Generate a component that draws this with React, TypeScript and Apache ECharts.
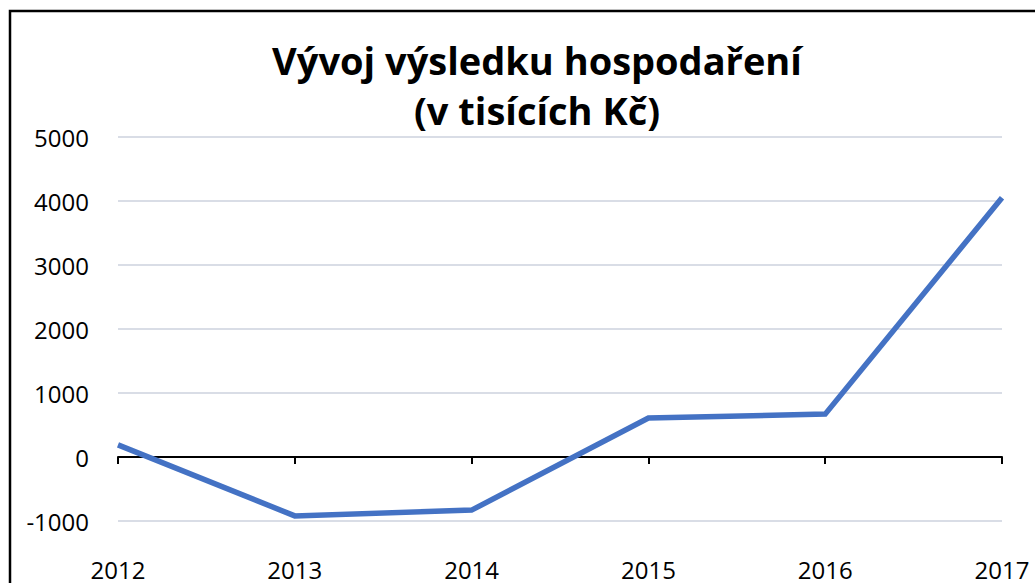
import React, { useEffect, useRef } from "react";
import * as echarts from "echarts";

const titleText = "Vývoj výsledku hospodaření\n(v tisících Kč)";
const years = ["2012", "2013", "2014", "2015", "2016", "2017"];
const result = [190, -920, -830, 610, 670, 4050];
const yMin = -1000;
const yMax = 5000;
const yStep = 1000;

export default function App() {
  const ref = useRef<HTMLDivElement>(null);
  useEffect(() => {
    if (!ref.current) return;
    const chart = echarts.init(ref.current, null, { renderer: "svg" });
    const font = "'Open Sans', 'Liberation Sans', sans-serif";
    chart.setOption({
      animation: false,
      backgroundColor: "#ffffff",
      title: {
        text: titleText,
        left: 532,
        top: 30,
        textAlign: "center",
        textStyle: {
          fontFamily: font,
          fontWeight: "bold",
          fontSize: 38,
          lineHeight: 50,
          color: "#000000",
        },
      },
      graphic: [
        {
          type: "rect",
          shape: { x: 10, y: 11, width: 1100, height: 700 },
          style: { fill: "none", stroke: "#000000", lineWidth: 2.5 },
          silent: true,
          z: 100,
        },
      ],
      grid: { left: 118, right: 33, top: 137, bottom: 62, containLabel: false },
      xAxis: [
        {
          type: "category",
          data: years,
          boundaryGap: false,
          axisLine: { show: true, onZero: true, lineStyle: { color: "#000000", width: 2 } },
          axisTick: { show: true, alignWithLabel: true, length: 7, lineStyle: { color: "#000000", width: 2 } },
          axisLabel: { show: false },
          splitLine: { show: false },
        },
        {
          type: "category",
          data: years,
          boundaryGap: false,
          position: "bottom",
          axisLine: { show: false, onZero: false },
          axisTick: { show: false },
          axisLabel: {
            show: true,
            margin: 37,
            fontFamily: font,
            fontSize: 24,
            lineHeight: 22,
            color: "#000000",
          },
          splitLine: { show: false },
        },
      ],
      yAxis: {
        type: "value",
        min: yMin,
        max: yMax,
        interval: yStep,
        axisLine: { show: false },
        axisTick: { show: false },
        axisLabel: {
          margin: 29,
          fontFamily: font,
          fontSize: 24,
          color: "#000000",
          formatter: (v: number) => String(v),
        },
        splitLine: { show: true, lineStyle: { color: "#D9DDE6", width: 2 } },
      },
      series: [
        {
          type: "line",
          data: result,
          xAxisIndex: 0,
          symbol: "none",
          lineStyle: { color: "#4472C4", width: 5.5, join: "miter" },
          z: 5,
        },
      ],
    });
    return () => chart.dispose();
  }, []);
  return (
    <div
      ref={ref}
      style={{ position: "fixed", left: 0, top: 0, width: 1035, height: 583 }}
    />
  );
}
